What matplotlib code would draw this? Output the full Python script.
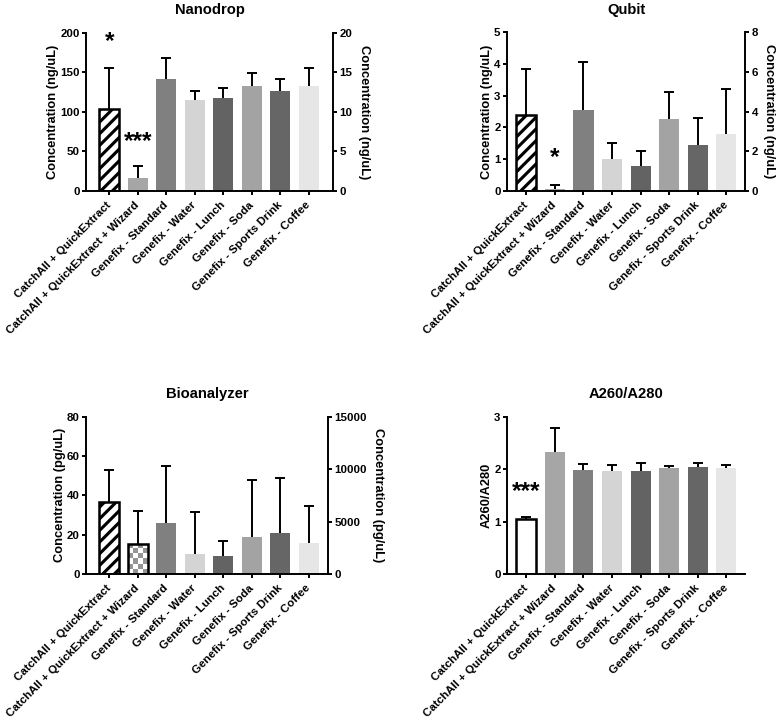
import matplotlib
matplotlib.use('Agg')
import matplotlib.pyplot as plt
import numpy as np

plt.rcParams['font.family'] = ['Liberation Sans', 'DejaVu Sans']
plt.rcParams['font.weight'] = 'bold'
plt.rcParams['axes.labelweight'] = 'bold'
plt.rcParams['axes.titleweight'] = 'bold'
plt.rcParams['hatch.linewidth'] = 1.6

# ---------------- data ----------------
categories = ['CatchAll + QuickExtract', 'CatchAll + QuickExtract + Wizard',
              'Genefix - Standard', 'Genefix - Water', 'Genefix - Lunch',
              'Genefix - Soda', 'Genefix - Sports Drink', 'Genefix - Coffee']

nano_mean = [104, 16.8, 141.5, 115.4, 117.9, 132.6, 125.9, 132.6]
nano_sd = [51, 15.2, 26.5, 11.3, 11.8, 16.9, 15.6, 22.4]

qubit_mean = [2.39, 0.07, 2.55, 1.01, 0.79, 2.26, 1.45, 1.80]
qubit_sd = [1.45, 0.12, 1.50, 0.49, 0.46, 0.87, 0.84, 1.40]

bio_mean = [36.5, 15.5, 25.8, 10.0, 9.2, 18.6, 20.8, 15.6]
bio_sd = [16.4, 16.5, 29.1, 21.4, 7.6, 29.0, 27.8, 19.0]

a260_mean = [1.05, 2.34, 1.99, 1.97, 1.97, 2.02, 2.05, 2.02]
a260_sd = [0.05, 0.45, 0.12, 0.11, 0.15, 0.05, 0.07, 0.06]

# significance marks: (bar index, baseline value, text)
nano_marks = [(0, 180.6, '*'), (1, 54.3, '***')]
qubit_marks = [(1, 0.86, '*')]
a260_marks = [(0, 1.45, '***')]

bar_colors = ['white', '#a6a6a6', '#808080', '#d4d4d4', '#636363', '#a3a3a3', '#666666', '#e6e6e6']

# ---------------- figure ----------------
DPI = 140
fig = plt.figure(figsize=(784 / DPI, 725 / DPI), dpi=DPI)

TICK_FS = 5.9
XTICK_FS = 6.5
LABEL_FS = 6.6
TITLE_FS = 7.6
STAR_FS = 12.5
LW = 1.0


def style_axis(ax):
    ax.spines['top'].set_visible(False)
    for s in ['left', 'bottom', 'right']:
        ax.spines[s].set_linewidth(LW)
    ax.tick_params(width=LW, length=2.3, labelsize=TICK_FS, pad=1.0)


def panel(rect, mean, sd, title, ylabel, ylim, yticks, xlim, first='hatch',
          right=None, marks=()):
    ax = fig.add_axes(rect)
    x = np.arange(len(categories))
    bars = ax.bar(x, mean, width=0.7, color=bar_colors, linewidth=0, zorder=2)
    b0 = bars[0]
    b0.set_facecolor('white')
    b0.set_edgecolor('black')
    b0.set_linewidth(1.3)
    if first == 'hatch':
        b0.set_hatch('////')
    # upper-only error bars with a cap at the top end
    top = np.add(mean, sd)
    ax.vlines(x, mean, top, colors='black', linewidth=LW, zorder=3)
    ax.plot(x, top, ls='none', marker='_', markersize=5.0, markeredgewidth=LW,
            color='black', zorder=3)
    for i, yv, t in marks:
        ax.text(x[i], yv, t, ha='center', va='baseline', fontsize=STAR_FS,
                fontweight='bold', zorder=4)
    ax.set_xlim(*xlim)
    ax.set_ylim(*ylim)
    ax.set_yticks(yticks)
    ax.set_xticks(x)
    ax.set_xticklabels(categories, rotation=45, ha='right', va='center',
                       rotation_mode='anchor', fontsize=XTICK_FS)
    style_axis(ax)
    ax.tick_params(axis='x', pad=4)
    ax.spines['right'].set_visible(False)
    ax.set_ylabel(ylabel, fontsize=LABEL_FS, labelpad=0.5)
    ax.set_title(title, fontsize=TITLE_FS, pad=9.5)
    if right is not None:
        ax2 = ax.twinx()
        ax2.set_ylim(*right[0])
        ax2.set_yticks(right[1])
        style_axis(ax2)
        ax2.spines['left'].set_visible(False)
        ax2.spines['bottom'].set_visible(False)
        ax2.set_ylabel(right[2], fontsize=LABEL_FS, rotation=270, labelpad=9)
    return ax, bars


panel([0.1097, 0.7366, 0.3151, 0.2183], nano_mean, nano_sd, 'Nanodrop',
      'Concentration (ng/uL)', (0, 200), [0, 50, 100, 150, 200], (-0.82, 7.85),
      right=((0, 20), [0, 5, 10, 15, 20], 'Concentration (ng/uL)'), marks=nano_marks)

panel([0.6467, 0.7366, 0.3036, 0.2189], qubit_mean, qubit_sd, 'Qubit',
      'Concentration (ng/uL)', (0, 5), [0, 1, 2, 3, 4, 5], (-0.675, 7.65),
      right=((0, 8), [0, 2, 4, 6, 8], 'Concentration (ng/uL)'), marks=qubit_marks)

axb, bbars = panel([0.1097, 0.2083, 0.3087, 0.217], bio_mean, bio_sd, 'Bioanalyzer',
                   'Concentration (pg/uL)', (0, 80), [0, 20, 40, 60, 80], (-0.82, 7.67),
                   right=((0, 15000), [0, 5000, 10000, 15000], 'Concentration (pg/uL)'))
# checkerboard fill on the second Bioanalyzer bar
cb = bbars[1]
cb.set_facecolor('white')
checker = np.indices((6, 4)).sum(axis=0) % 2
im = axb.imshow(checker, extent=(cb.get_x(), cb.get_x() + cb.get_width(), 0, cb.get_height()),
                cmap='gray', vmin=-1.4, vmax=1, interpolation='nearest', aspect='auto',
                zorder=2.1)
im.set_clip_path(cb)
axb.bar([1], [bio_mean[1]], width=0.7, fill=False, edgecolor='black', linewidth=1.3, zorder=2.2)
axb.set_xlim(-0.82, 7.67)
axb.set_ylim(0, 80)

panel([0.6467, 0.2079, 0.3032, 0.217], a260_mean, a260_sd, 'A260/A280',
      'A260/A280', (0, 3), [0, 1, 2, 3], (-0.675, 7.64), first='plain', marks=a260_marks)

fig.savefig('out.png', dpi=DPI)
